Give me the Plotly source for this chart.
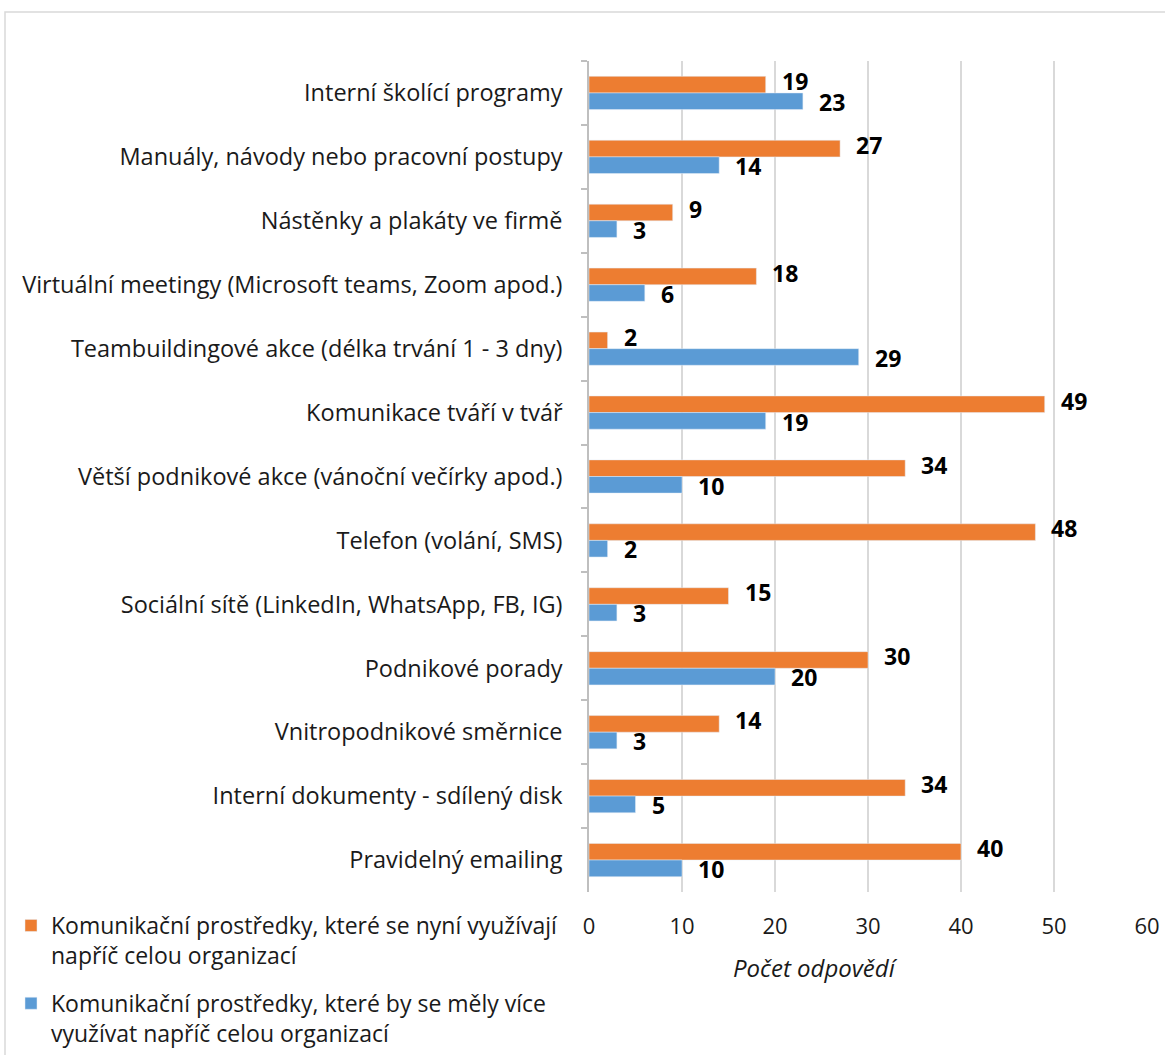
import plotly.graph_objects as go

categories = [
    "Interní školící programy",
    "Manuály, návody nebo pracovní postupy",
    "Nástěnky a plakáty ve firmě",
    "Virtuální meetingy (Microsoft teams, Zoom apod.)",
    "Teambuildingové akce (délka trvání 1 - 3 dny)",
    "Komunikace tváří v tvář",
    "Větší podnikové akce (vánoční večírky apod.)",
    "Telefon (volání, SMS)",
    "Sociální sítě (LinkedIn, WhatsApp, FB, IG)",
    "Podnikové porady",
    "Vnitropodnikové směrnice",
    "Interní dokumenty - sdílený disk",
    "Pravidelný emailing",
]
current_use = [19, 27, 9, 18, 2, 49, 34, 48, 15, 30, 14, 34, 40]
should_use = [23, 14, 3, 6, 29, 19, 10, 2, 3, 20, 3, 5, 10]

name_current = "Komunikační prostředky, které se nyní využívají<br>napříč celou organizací"
name_should = "Komunikační prostředky, které by se měly více<br>využívat napříč celou organizací"
x_ticks = [0, 10, 20, 30, 40, 50, 60]
axis_title = "Počet odpovědí"

ORANGE = "#ED7D31"
BLUE = "#5B9BD5"
FONT = "Open Sans, Calibri, sans-serif"
TXT = "#1a1a1a"

W, H = 1165, 1055
L, R, T, B = 589, 18, 61, 163
PW = W - L - R
PH = H - T - B

fig = go.Figure()
fig.add_trace(go.Bar(y=categories, x=current_use, orientation="h", name=name_current,
                     marker=dict(color=ORANGE), legendgroup="a"))
fig.add_trace(go.Bar(y=categories, x=should_use, orientation="h", name=name_should,
                     marker=dict(color=BLUE), legendgroup="b"))

for c, v in zip(categories, current_use):
    fig.add_annotation(x=v, y=c, xref="x", yref="y", text=f"<b>{v}</b>", showarrow=False,
                       xanchor="left", yanchor="middle", xshift=14, yshift=12,
                       font=dict(family=FONT, size=23, color="#000"))
for c, v in zip(categories, should_use):
    fig.add_annotation(x=v, y=c, xref="x", yref="y", text=f"<b>{v}</b>", showarrow=False,
                       xanchor="left", yanchor="middle", xshift=14, yshift=-9,
                       font=dict(family=FONT, size=23, color="#000"))

# axis title
fig.add_annotation(x=(815 - L) / PW, y=(H - B - 967) / PH, xref="paper", yref="paper",
                   text=f"<i>{axis_title}</i>", showarrow=False, xanchor="center", yanchor="middle",
                   font=dict(family=FONT, size=24, color=TXT))

# chart border
fig.add_shape(type="rect", xref="paper", yref="paper",
              x0=(5 - L) / PW, x1=(W + 20 - L) / PW,
              y0=(H - B - (H + 20)) / PH, y1=(H - B - 12) / PH,
              line=dict(color="#d9d9d9", width=1.5), fillcolor="rgba(0,0,0,0)", layer="below")

fig.update_layout(
    width=W, height=H,
    margin=dict(l=L, r=R, t=T, b=B, autoexpand=False),
    paper_bgcolor="white", plot_bgcolor="white",
    barmode="group", bargap=0.48, bargroupgap=0,
    font=dict(family=FONT, size=23, color=TXT),
    showlegend=True,
    legend=dict(x=(11 - L) / PW, y=(H - B - 904) / PH, xanchor="left", yanchor="top",
                traceorder="grouped", tracegroupgap=15, valign="top",
                font=dict(family=FONT, size=23, color=TXT), bgcolor="rgba(0,0,0,0)"),
    xaxis=dict(range=[0, 60], tickvals=x_ticks, showgrid=True, gridcolor="#d9d9d9", gridwidth=1.5,
               zeroline=False, showline=False, ticks="", ticklabelstandoff=19,
               tickfont=dict(family=FONT, size=22, color=TXT), fixedrange=True),
    yaxis=dict(autorange="reversed", showline=True, linecolor="#bfbfbf", linewidth=1.5,
               ticks="outside", tickson="boundaries", ticklen=6, tickcolor="#bfbfbf", tickwidth=1.5,
               ticklabelstandoff=20, tickfont=dict(family=FONT, size=23.5, color=TXT),
               showgrid=False, fixedrange=True),
)

fig.write_html("out.html")
